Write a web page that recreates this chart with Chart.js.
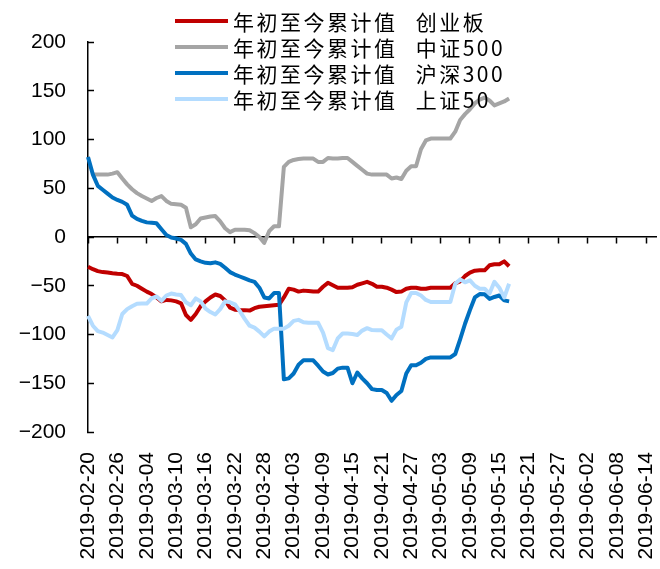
<!DOCTYPE html>
<html>
<head>
<meta charset="utf-8">
<script src="https://cdn.jsdelivr.net/npm/chart.js@4.4.1/dist/chart.umd.min.js"></script>
<style>
  html, body { margin: 0; padding: 0; background: #fff; }
  #wrap { position: relative; width: 660px; height: 569px; }
  #legend {
    position: absolute; left: 175px; top: 8px;
    font-family: "Noto Sans CJK SC", sans-serif; font-size: 21px; color: #000;
    letter-spacing: 2.5px; word-spacing: 11px;
  }
  .item { display: flex; align-items: center; height: 26px; white-space: nowrap; }
  .swatch { width: 53px; height: 4px; margin-right: 5px; }
</style>
</head>
<body>
<div id="wrap">
  <canvas id="myChart" width="660" height="569"></canvas>
  <div id="legend"></div>
</div>
<script>
// every calendar day on the axis, labelled every 6 days
const firstDay = Date.UTC(2019, 1, 20);
const lastDay = Date.UTC(2019, 5, 16);
const days = [];
for (let t = firstDay; t <= lastDay; t += 86400000) {
    days.push(new Date(t).toISOString().slice(0, 10));
}
const tickDates = ['2019-02-20','2019-02-26','2019-03-04','2019-03-10','2019-03-16','2019-03-22',
    '2019-03-28','2019-04-03','2019-04-09','2019-04-15','2019-04-21','2019-04-27','2019-05-03',
    '2019-05-09','2019-05-15','2019-05-21','2019-05-27','2019-06-02','2019-06-08','2019-06-14'];
const yTicks = [-200, -150, -100, -50, 0, 50, 100, 150, 200];

const seriesNames = ['年初至今累计值 创业板', '年初至今累计值 中证500', '年初至今累计值 沪深300', '年初至今累计值 上证50'];
const seriesColors = ['#C00000', '#A5A5A5', '#0070C0', '#B4DCFF'];

// daily values from 2019-02-20 to 2019-05-17
const chuangye = [
    -30.5, -33, -35, -36, -36.5, -37.2, -37.7, -38, -40, -48,
    -50, -53, -56, -58.5, -62, -66, -64.5, -65, -66, -68,
    -80, -85, -79, -71, -66, -62, -59, -60.5, -65, -72.5,
    -74.5, -75, -75, -75.5, -73, -71.5, -71, -70.5, -70, -69.5,
    -62, -53, -54, -56, -55, -55.5, -56, -56, -51, -47,
    -49.5, -52, -52, -52, -51.5, -49, -47.5, -46, -48, -51,
    -51, -52, -54, -56.5, -56, -53, -52, -52, -53, -53,
    -52, -52, -52, -52, -52, -47.5, -45.5, -40, -36.5, -34.5,
    -34.2, -34.2, -29, -28, -28, -25, -30
];
const zz500 = [
    null, 64, 64, 64, 64, 65, 66.5, 60, 54, 49,
    45, 42, 39.5, 37, 40, 42, 37, 34, 33.5, 33,
    30, 10, 13, 19, 20, 21, 21.5, 16, 9, 5,
    7.5, 7.5, 7.5, 7, 4, 0, -6, 6, 11, 11,
    72, 77, 79, 80, 80.4, 80.4, 80.4, 77, 77, 81,
    80.5, 80.4, 81, 81, 77, 73, 69, 65, 64, 64,
    64, 64, 60, 61, 59.5, 68, 72.5, 72.5, 90, 99,
    101, 101, 101, 101, 101, 108, 120, 126, 131, 137,
    141, 143, 140, 135, 137, 139, 142
];
const hs300 = [
    82, 64, 52.5, 48.5, 44.5, 40.5, 38, 36, 33, 22,
    18.5, 16.5, 15, 14.5, 14, 8, 2, -0.5, -1.5, -3,
    -7, -17, -23, -25, -26.5, -27, -26, -27.5, -31.5, -36,
    -38.5, -40.5, -42.5, -44.5, -46, -52, -62, -63, -57.5, -57.5,
    -146, -145, -140, -131, -126.5, -126.5, -126.5, -132, -138, -141,
    -139.5, -135, -134, -134, -150, -139, -145, -150, -156, -157,
    -157, -160, -168, -162, -158, -140, -131.6, -131.6, -129, -125,
    -123.5, -123.5, -123.5, -123.5, -123.5, -120, -105, -89, -75, -62,
    -58.5, -58.8, -63.5, -61.5, -60, -65, -66
];
const sz50 = [
    -81, -91, -96.5, -98, -100.5, -103, -95.5, -79, -74, -71,
    -68.5, -68.3, -68.3, -63, -61, -65.5, -60, -58, -59, -59.5,
    -67, -70, -63, -66, -73.5, -77, -79.5, -74, -66, -67,
    -69, -76, -84, -91, -93, -97, -102, -97, -94, -94,
    -94, -91, -86, -85, -87.5, -88, -88, -88, -98, -114,
    -116, -104, -99, -99, -99.5, -100.5, -96, -93.5, -95.5, -95.7,
    -95.7, -100, -104, -95, -92, -67, -57.5, -57.5, -60, -64.5,
    -66.7, -66.7, -66.7, -66.7, -66.7, -48, -43.5, -46.5, -44.5, -50,
    -53, -53, -58, -46, -52, -62, -48
];
const seriesData = [chuangye, zz500, hs300, sz50];

const font = { family: "'Liberation Sans', Arial, sans-serif", size: 21 };

const ctx = document.getElementById('myChart').getContext('2d');
const chart = new Chart(ctx, {
    type: 'line',
    data: {
        labels: days,
        datasets: seriesData.map((d, i) => ({
            label: seriesNames[i],
            data: d,
            borderColor: seriesColors[i],
            backgroundColor: seriesColors[i],
            borderWidth: 4,
            pointRadius: 0,
            tension: 0,
            spanGaps: true,
            borderJoinStyle: 'round',
            order: seriesData.length - i
        }))
    },
    options: {
        responsive: false,
        animation: false,
        layout: { padding: { top: 42, right: 4, left: 0, bottom: 0 } },
        plugins: { legend: { display: false }, tooltip: { enabled: false } },
        scales: {
            x: {
                type: 'category',
                position: 'bottom',
                grid: { display: false },
                border: { display: false },
                ticks: {
                    autoSkip: false,
                    maxRotation: 90,
                    minRotation: 90,
                    padding: 12,
                    color: '#000',
                    font: font,
                    callback: function (v, i) {
                        const lab = days[i];
                        return tickDates.includes(lab) ? lab : null;
                    }
                },
                afterFit: s => { s.height = 137; s.paddingLeft = 0; s.paddingRight = 0; }
            },
            x2: {
                type: 'category',
                axis: 'x',
                position: { y: 0 },
                labels: days,
                ticks: { display: false, autoSkip: false },
                grid: {
                    drawOnChartArea: false,
                    tickLength: 6,
                    tickWidth: 1.5,
                    tickColor: c => tickDates.includes(days[c.index]) ? '#000' : 'rgba(0,0,0,0)'
                },
                border: { display: true, color: '#000', width: 1.5 },
                afterFit: s => { s.paddingLeft = 0; s.paddingRight = 0; }
            },
            y: {
                min: -200,
                max: 200,
                afterBuildTicks: s => { s.ticks = yTicks.map(v => ({ value: v })); },
                grid: { drawOnChartArea: false, tickLength: -6, tickWidth: 1.5, tickColor: '#000' },
                border: { display: true, color: '#000', width: 1.5 },
                ticks: {
                    color: '#000', font: font, padding: 28,
                    callback: v => (v < 0 ? '\u2212' + Math.abs(v) : String(v))
                },
                afterFit: s => { s.width = 88; }
            }
        }
    }
});

// legend drawn over the plot like the original
const legend = document.getElementById('legend');
seriesNames.forEach((name, i) => {
    const row = document.createElement('div');
    row.className = 'item';
    const sw = document.createElement('span');
    sw.className = 'swatch';
    sw.style.background = seriesColors[i];
    const tx = document.createElement('span');
    tx.textContent = name;
    row.appendChild(sw);
    row.appendChild(tx);
    legend.appendChild(row);
});
</script>
</body>
</html>
